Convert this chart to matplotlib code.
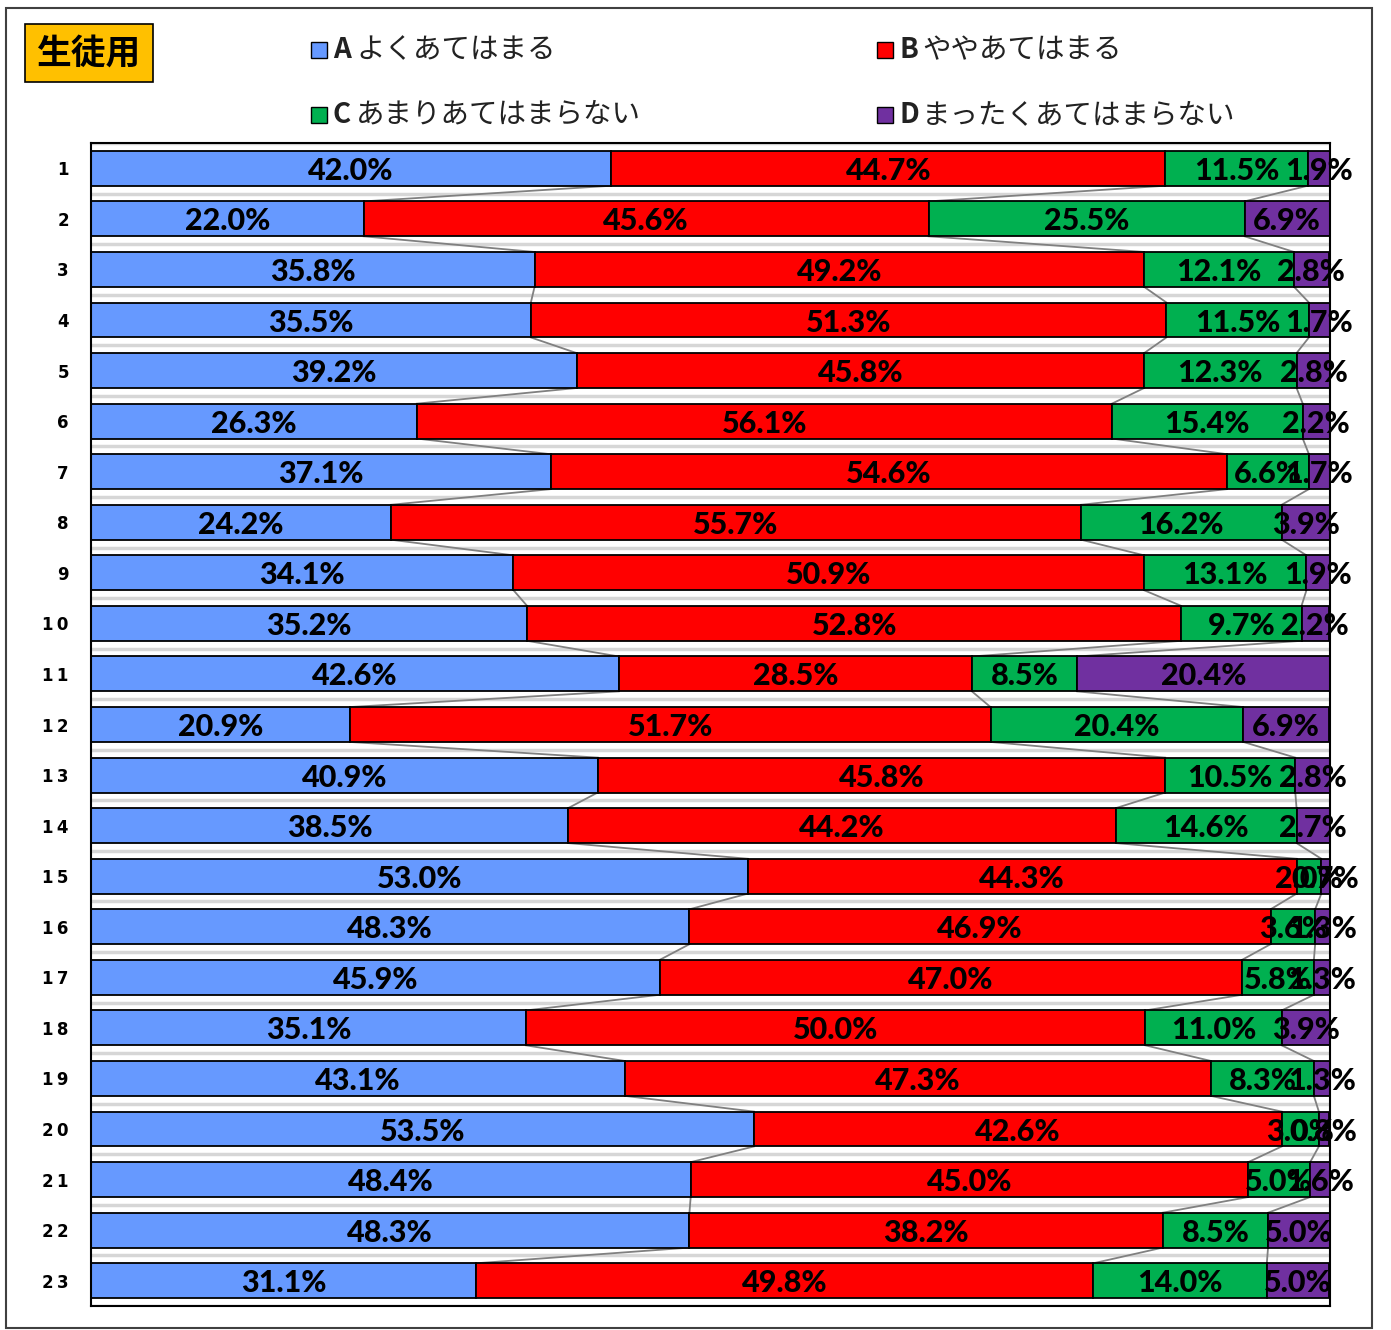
import numpy as np
import matplotlib.pyplot as plt
from matplotlib.patches import Rectangle

plt.rcParams['font.family'] = ['Noto Sans CJK JP', 'DejaVu Sans']

# ---- data (percent) -------------------------------------------------
items = [str(i) for i in range(1, 24)]
a_vals = [42.0, 22.0, 35.8, 35.5, 39.2, 26.3, 37.1, 24.2, 34.1, 35.2, 42.6, 20.9,
          40.9, 38.5, 53.0, 48.3, 45.9, 35.1, 43.1, 53.5, 48.4, 48.3, 31.1]
b_vals = [44.7, 45.6, 49.2, 51.3, 45.8, 56.1, 54.6, 55.7, 50.9, 52.8, 28.5, 51.7,
          45.8, 44.2, 44.3, 46.9, 47.0, 50.0, 47.3, 42.6, 45.0, 38.2, 49.8]
c_vals = [11.5, 25.5, 12.1, 11.5, 12.3, 15.4, 6.6, 16.2, 13.1, 9.7, 8.5, 20.4,
          10.5, 14.6, 2.0, 3.6, 5.8, 11.0, 8.3, 3.0, 5.0, 8.5, 14.0]
d_vals = [1.9, 6.9, 2.8, 1.7, 2.8, 2.2, 1.7, 3.9, 1.9, 2.2, 20.4, 6.9,
          2.8, 2.7, 0.7, 1.3, 1.3, 3.9, 1.3, 0.8, 1.6, 5.0, 5.0]

legend_keys = ['A', 'B', 'C', 'D']
legend_labels = ['よくあてはまる', 'ややあてはまる', 'あまりあてはまらない', 'まったくあてはまらない']
colors = ['#6699FF', '#FF0000', '#00B050', '#7030A0']

#----------------------------------------------------------------------
fig = plt.figure(figsize=(13.91, 13.30), dpi=100)
W, H = 1391, 1330

ax = fig.add_axes([91 / W, 1 - 1306 / H, (1330 - 91) / W, (1306 - 143) / H])

series = np.array([a_vals, b_vals, c_vals, d_vals])
n = len(items)
y = np.arange(n)
bar_h = 0.69

# light gray bands in the gaps between bars
for k in range(n + 1):
    ax.axhline(k - 0.5, color='#d6d6d6', lw=2.5, zorder=0)

left = np.zeros(n)
for s in range(4):
    ax.barh(y, series[s], left=left, height=bar_h, color=colors[s],
            edgecolor='black', linewidth=1.3, zorder=2)
    for i in range(n):
        ax.text(left[i] + series[s][i] / 2, y[i] + 0.05, '%.1f%%' % series[s][i],
                ha='center', va='center', fontsize=22, fontweight='black',
                family=['Lato', 'DejaVu Sans'], color='black', zorder=4,
                clip_on=False)
    left = left + series[s]

# series lines between bars
cum = np.cumsum(series, axis=0)
for s in range(3):
    for i in range(n - 1):
        ax.plot([cum[s][i], cum[s][i + 1]], [y[i] + bar_h / 2, y[i + 1] - bar_h / 2],
                color='#808080', lw=1.3, zorder=1)

ax.set_xlim(0, 100)
ax.set_ylim(n - 0.5, -0.5)
ax.set_xticks([])
ax.set_yticks(y)
ax.set_yticklabels(['\u2009'.join(t) for t in items], fontsize=12,
                   fontweight='bold', family=['DejaVu Sans'])
ax.tick_params(axis='y', length=0, pad=16)
for sp in ax.spines.values():
    sp.set_linewidth(1.5)
    sp.set_color('black')

# outer frame
fig.patches.append(Rectangle((6 / W, 1 - 1328 / H), (1372 - 6) / W, (1328 - 8) / H,
                             transform=fig.transFigure, fill=False,
                             edgecolor='#404040', lw=1.5))

# 生徒用 box
fig.text(89 / W, 1 - 53 / H, '生徒用', ha='center', va='center', fontsize=25,
         fontweight='bold', color='black',
         bbox=dict(boxstyle='square,pad=0.33', facecolor='#FFC000',
                   edgecolor='black', lw=1.2))

# legend
pos = [(311, 50), (877, 50), (311, 115), (877, 115)]
for k in range(4):
    px, py = pos[k]
    fig.patches.append(Rectangle((px / W, 1 - (py + 8) / H), 16 / W, 16 / H,
                                 transform=fig.transFigure, facecolor=colors[k],
                                 edgecolor='black', lw=1.0))
    fig.text((px + 22) / W, 1 - py / H, legend_keys[k], ha='left', va='center',
             fontsize=20, fontweight='bold', color='#222222')
    fig.text((px + 45) / W, 1 - py / H, legend_labels[k], ha='left', va='center',
             fontsize=20.5, color='#222222')

fig.savefig('out.png', dpi=100)
